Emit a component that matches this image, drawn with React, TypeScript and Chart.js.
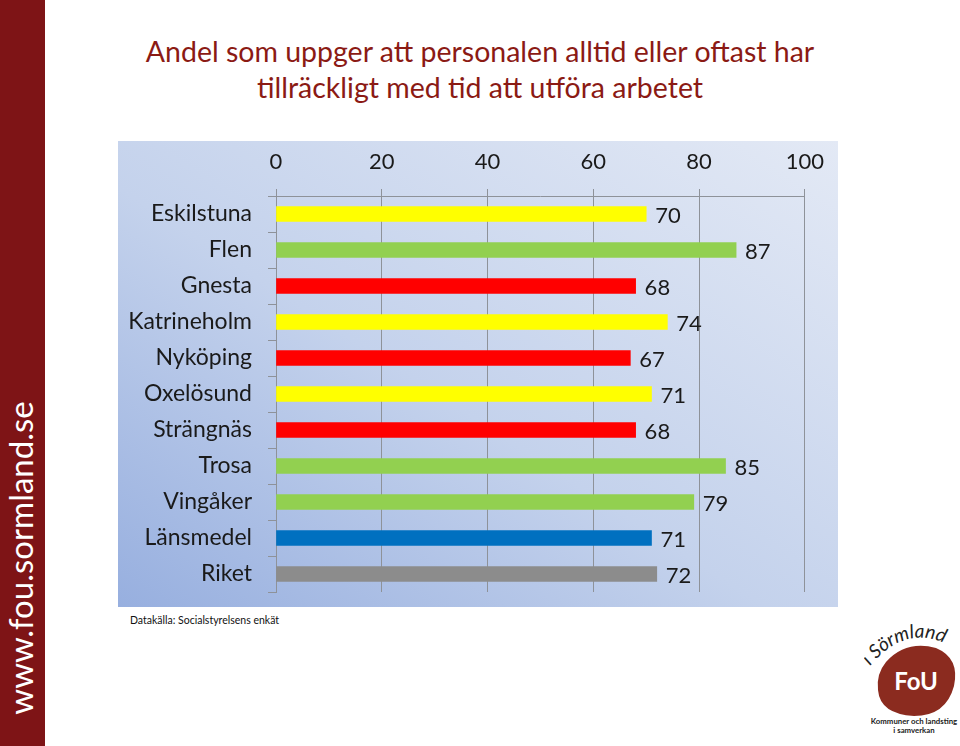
import React, { useEffect, useRef } from "react";
import { Chart, registerables } from "chart.js";

Chart.register(...registerables);

const categories = [
  "Eskilstuna",
  "Flen",
  "Gnesta",
  "Katrineholm",
  "Nyköping",
  "Oxelösund",
  "Strängnäs",
  "Trosa",
  "Vingåker",
  "Länsmedel",
  "Riket",
];
const values = [70, 87, 68, 74, 67, 71, 68, 85, 79, 71, 72];
const barColors = [
  "#ffff00",
  "#92d050",
  "#ff0000",
  "#ffff00",
  "#ff0000",
  "#ffff00",
  "#ff0000",
  "#92d050",
  "#92d050",
  "#0070c0",
  "#8c8c8c",
];
const axisMin = 0;
const axisMax = 100;
const axisStep = 20;
const titleLines = [
  "Andel som uppger att personalen alltid eller oftast har",
  "tillräckligt med tid att utföra arbetet",
];
const sourceText = "Datakälla: Socialstyrelsens enkät";
const sideText = "www.fou.sormland.se";

const FONT = "Lato, 'Liberation Sans', sans-serif";
const TEXT = "#1a1a1a";

const valueLabels = {
  id: "valueLabels",
  afterDatasetsDraw(chart: any) {
    const ctx = chart.ctx;
    const meta = chart.getDatasetMeta(0);
    ctx.save();
    ctx.font = `22px ${FONT}`;
    ctx.fillStyle = TEXT;
    ctx.textAlign = "left";
    ctx.textBaseline = "middle";
    meta.data.forEach((el: any, i: number) => {
      ctx.fillText(String(values[i]), el.x + 9, el.y + 2);
    });
    ctx.restore();
  },
};

function BarChart() {
  const ref = useRef<HTMLCanvasElement>(null);
  useEffect(() => {
    if (!ref.current) return;
    const chart = new Chart(ref.current, {
      type: "bar",
      data: {
        labels: categories,
        datasets: [
          {
            data: values,
            backgroundColor: barColors,
            borderWidth: 0,
            barThickness: 15,
          },
        ],
      },
      options: {
        indexAxis: "y",
        animation: false,
        responsive: false,
        layout: { padding: { left: 0, right: 33, top: 0, bottom: 15 } },
        plugins: {
          legend: { display: false },
          tooltip: { enabled: false },
        },
        scales: {
          x: {
            position: "top",
            min: axisMin,
            max: axisMax,
            ticks: {
              stepSize: axisStep,
              color: TEXT,
              font: { family: FONT, size: 22 },
              padding: 14,
            },
            grid: {
              color: "#8e9299",
              lineWidth: 1,
              tickLength: 7,
              drawTicks: true,
            },
            border: { display: true, color: "#8e9299" },
            afterFit: (scale: any) => {
              scale.height = 55;
            },
          },
          y: {
            ticks: {
              color: TEXT,
              font: { family: FONT, size: 23 },
              padding: 16,
            },
            grid: {
              offset: true,
              drawOnChartArea: false,
              drawTicks: true,
              tickLength: 8,
              color: "#8e9299",
            },
            border: { display: true, color: "#8e9299" },
            afterFit: (scale: any) => {
              scale.width = 158;
              scale.paddingTop = 0;
              scale.paddingBottom = 0;
            },
          },
        },
      },
      plugins: [valueLabels],
    });
    return () => chart.destroy();
  }, []);
  return <canvas ref={ref} width={720} height={466} style={{ display: "block" }} />;
}

function Logo() {
  return (
    <svg width={96} height={124} viewBox="0 0 96 124" style={{ position: "absolute", left: 864, top: 620 }}>
      <defs>
        <path id="arcPath" d="M 6 46 Q 48 -4 98 34" fill="none" />
      </defs>
      <text fontFamily={FONT} fontSize={19} fill="#222" fontStyle="italic">
        <textPath href="#arcPath">i Sörmland</textPath>
      </text>
      <path d="M 22 42 Q 42 20 72 28 Q 96 38 90 66 Q 82 96 50 96 Q 16 94 14 70 Q 12 54 22 42 Z" fill="#8b2b1f" />
      <text x={52} y={70} textAnchor="middle" fontFamily={FONT} fontWeight="bold" fontSize={24} fill="#fff">FoU</text>
      <text x={50} y={104} textAnchor="middle" fontFamily={FONT} fontWeight="bold" fontSize={7.8} fill="#222">Kommuner och landsting</text>
      <text x={50} y={113} textAnchor="middle" fontFamily={FONT} fontWeight="bold" fontSize={7.8} fill="#222">i samverkan</text>
    </svg>
  );
}

export default function App() {
  return (
    <div style={{ position: "absolute", left: 0, top: 0, width: 960, height: 746, overflow: "hidden", background: "#fff", fontFamily: FONT }}>
      <div style={{ position: "absolute", left: 0, top: 0, width: 45, height: 746, background: "#7e1416" }} />
      <div
        style={{
          position: "absolute",
          left: 20,
          top: 558,
          transform: "translate(-50%, -50%) rotate(-90deg)",
          color: "#fff",
          fontSize: 33,
          whiteSpace: "nowrap",
          lineHeight: 1,
        }}
      >
        {sideText}
      </div>
      <div style={{ position: "absolute", left: 45, width: 870, top: 33, textAlign: "center", color: "#8b1a14", fontSize: 28.5, lineHeight: "36px" }}>
        {titleLines.map((t) => (
          <div key={t}>{t}</div>
        ))}
      </div>
      <div
        style={{
          position: "absolute",
          left: 118,
          top: 141,
          width: 720,
          height: 466,
          background: "linear-gradient(to top right, #97afdf 0%, #c4d2ec 45%, #e3e9f5 100%)",
        }}
      >
        <BarChart />
      </div>
      <div style={{ position: "absolute", left: 130, top: 614, fontSize: 10.5, color: "#111" }}>{sourceText}</div>
      <Logo />
    </div>
  );
}
